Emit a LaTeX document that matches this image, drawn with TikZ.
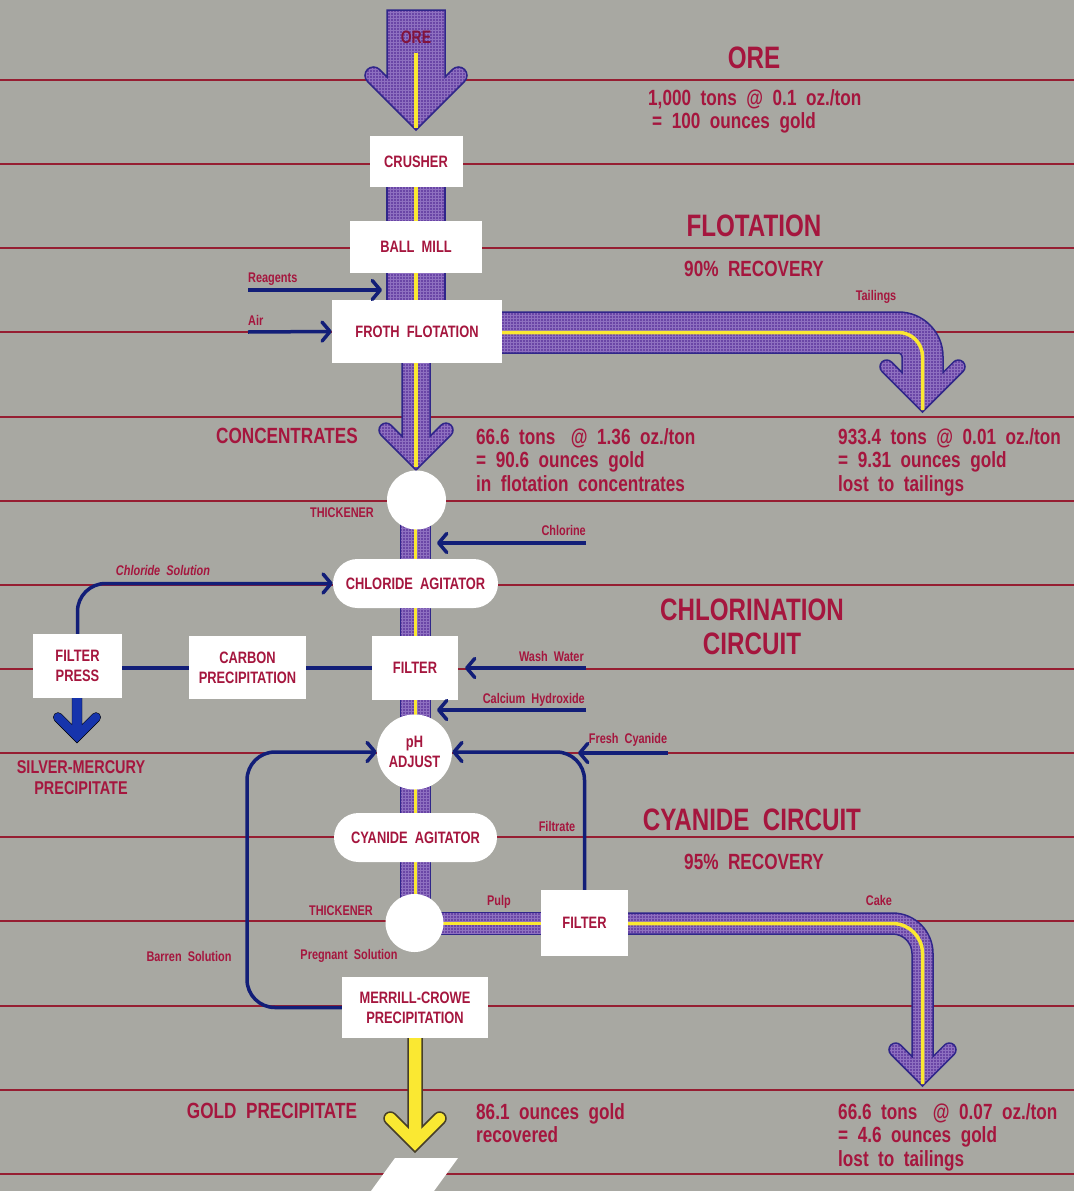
\documentclass[tikz,border=0pt]{standalone}
\usepackage{fontspec}
\setmainfont{Liberation Sans}[FakeStretch=0.78,WordSpace=2]
\usetikzlibrary{arrows.meta,patterns}
\definecolor{bg}{RGB}{168,168,162}
\definecolor{tred}{RGB}{165,22,62}
\definecolor{odark}{RGB}{130,20,60}
\definecolor{rline}{RGB}{150,30,50}
\definecolor{navy}{RGB}{18,30,120}
\definecolor{ppl}{RGB}{106,70,166}
\definecolor{lav}{RGB}{142,112,192}
\definecolor{pnv}{RGB}{48,38,138}
\definecolor{yel}{RGB}{250,232,50}
\definecolor{sblue}{RGB}{22,52,172}
\definecolor{gdark}{RGB}{70,62,40}
% downward chevron arrow: cx, top, half shaft, tip y, wing width, wing reach, style
\newcommand\varrow[7]{%
  \pgfmathsetmacro\kk{#5/(2*sqrt(2))}%
  \pgfmathsetmacro\rr{#5/2}%
  \pgfmathsetmacro\Vy{#4-2*\kk}%
  \pgfmathsetmacro\ym{#4-4*\kk-#3}%
  \draw[#7] (#1,#4) -- ({#1-#6-\kk},{#4-#6-\kk}) arc[start angle=135,end angle=315,radius=\rr]
    -- ({#1-#3},\ym) -- ({#1-#3},#2) -- ({#1+#3},#2) -- ({#1+#3},\ym)
    -- ({#1+#6-\kk},{\Vy-#6-\kk}) arc[start angle=225,end angle=405,radius=\rr] -- cycle;}
% L-shaped pipe ending in chevron: x0, yc, a, xc, R, T, w, d, style
\newcommand\larrow[9]{%
  \pgfmathsetmacro\kk{#7/(2*sqrt(2))}%
  \pgfmathsetmacro\rr{#7/2}%
  \pgfmathsetmacro\Vy{#6-2*\kk}%
  \pgfmathsetmacro\ym{#6-4*\kk-#3}%
  \draw[#9] (#1,{#2-#3}) -- ({#4-#5},{#2-#3}) arc[start angle=270,end angle=360,radius={#5+#3}]
    -- ({#4+#3},\ym) -- ({#4+#8-\kk},{\Vy-#8-\kk}) arc[start angle=225,end angle=405,radius=\rr]
    -- (#4,#6) -- ({#4-#8-\kk},{#6-#8-\kk}) arc[start angle=135,end angle=315,radius=\rr]
    -- ({#4-#3},\ym) -- ({#4-#3},{#2+#5}) arc[start angle=0,end angle=-90,radius={#5-#3}]
    -- (#1,{#2+#3}) -- cycle;
  \draw[draw=yel,line width=3.5] (#1,#2) -- ({#4-#5},#2) arc[start angle=270,end angle=360,radius=#5] -- (#4,{#6-2});}
\begin{document}
\begin{tikzpicture}[x=1pt,y=-1pt,
  every node/.style={inner sep=0pt,text=tred},
  lab/.style={font=\bfseries\fontsize{14}{16}\selectfont},
  blab/.style={font=\bfseries\fontsize{16.5}{20}\selectfont,align=center},
  body/.style={font=\bfseries\fontsize{22}{23.5}\selectfont,align=left},
  mid/.style={font=\bfseries\fontsize{22}{23.5}\selectfont,align=center},
  ttl/.style={font=\bfseries\fontsize{31}{34}\selectfont,align=center},
  box/.style={fill=white,rectangle,blab},
  pill/.style={box,rounded corners=24.5},
  disc/.style={fill=white,circle,blab},
  pipe/.style={preaction={fill=ppl},pattern=grid,pattern color=lav,draw=pnv,line width=1.5,line join=miter},
  yl/.style={draw=yel,line width=4},
  conn/.style={draw=navy,line width=3.5},
  flow/.style={conn,-{Straight Barb[length=8pt,width=19pt,round]}},
  rl/.style={draw=rline,line width=2}]
\useasboundingbox (0,0) rectangle (1074,1191);
\fill[bg] (0,0) rectangle (1074,1191);
\foreach \yy in {80,164,248,332,417,501,585,669,753,837,921,1006,1090,1174} \draw[rl] (0,\yy) -- (1074,\yy);

% ---- pipes ----
\varrow{416}{10}{29}{130}{17}{42.5}{pipe}
\draw[yl] (416,53) -- (416,128);
\draw[pipe] (387,180) rectangle (445,310);
\draw[yl] (416,180) -- (416,310);
\larrow{490}{332.5}{20.5}{922.5}{24}{412}{13.4}{35.8}{pipe}
\varrow{416}{340}{14}{470}{14}{30}{pipe}
\draw[yl,line width=3.5] (416,340) -- (416,467);
\draw[pipe] (400.5,500) rectangle (430.5,923);
\draw[yl,line width=3.5] (415.5,500) -- (415.5,923);
\draw[pipe] (415,912.5) rectangle (560,934.5);
\draw[yl,line width=3] (415,923.5) -- (560,923.5);
\larrow{600}{923.5}{10.5}{922.5}{30}{1086}{13.4}{26.8}{pipe}
\varrow{415}{1030}{7}{1152}{12.7}{24.65}{fill=yel,draw=gdark,line width=1.5,line join=miter}
\varrow{77}{690}{5}{743}{9.5}{19}{fill=sblue}
\fill[white] (371,1191) -- (395,1158) -- (458,1158) -- (434,1191) -- cycle;

% ---- nodes ----
\node[box,minimum width=93,minimum height=51] (crusher) at (416,161.5) {CRUSHER};
\node[box,minimum width=132,minimum height=52] (ballmill) at (416,247) {BALL MILL};
\node[box,minimum width=170,minimum height=63] (froth) at (417,331.5) {FROTH FLOTATION};
\node[disc,minimum size=59] (thick1) at (416.5,500) {};
\node[pill,minimum width=165,minimum height=49] (chlag) at (415.5,583.5) {CHLORIDE AGITATOR};
\node[box,minimum width=86,minimum height=64] (filter1) at (415,668) {FILTER};
\node[box,minimum width=117,minimum height=63] (carbon) at (247.5,667.5) {CARBON\\PRECIPITATION};
\node[box,minimum width=89,minimum height=64] (fpress) at (77.5,666) {FILTER\\PRESS};
\node[disc,minimum size=75] (ph) at (414.5,752) {pH\\ADJUST};
\node[pill,minimum width=163,minimum height=49] (cyag) at (415.5,837.5) {CYANIDE AGITATOR};
\node[disc,minimum size=58] (thick2) at (414.5,923) {};
\node[box,minimum width=87,minimum height=66] (filter2) at (584.5,923) {FILTER};
\node[box,minimum width=146,minimum height=61] (merrill) at (415,1007.5) {MERRILL-CROWE\\PRECIPITATION};

% ---- navy connectors ----
\coordinate (reagS) at (248,290); \coordinate (reagE) at (382,290);
\draw[flow] (reagS) -- (reagE);
\coordinate (airS) at (248,332);
\draw[flow] (airS) -- (froth.west);
\coordinate (clS) at (586,543); \coordinate (clE) at (437,543);
\draw[flow] (clS) -- (clE);
\coordinate (wwS) at (586,668); \coordinate (wwE) at (465,668);
\draw[flow] (wwS) -- (wwE);
\coordinate (caS) at (586,710); \coordinate (caE) at (437,710);
\draw[flow] (caS) -- (caE);
\draw[conn] (fpress.east |- filter1.west) -- (carbon.west |- filter1.west);
\draw[conn] (carbon.east |- filter1.west) -- (filter1.west);
\draw[flow,rounded corners=28] (fpress.north) |- (chlag.west);
\coordinate (fcS) at (668,753); \coordinate (fcE) at (578,753);
\draw[flow,rounded corners=28] (filter2.north) |- (ph.east);
\draw[flow] (fcS) -- (fcE);
\coordinate (bc) at (247,1007.5);
\draw[flow,rounded corners=28] (merrill.west) -- (bc) |- (ph.west);

% ---- texts ----
\node[font=\bfseries\fontsize{18}{20}\selectfont,text=odark] (oret) at (416,37) {ORE};
\node[ttl] (t1) at (754,58) {ORE};
\node[body,anchor=base west] (b0) at (648,128.5) {1,000 tons @ 0.1 oz./ton\\\hspace{4pt}= 100 ounces gold};
\node[ttl] (t2) at (754,226) {FLOTATION};
\node[mid] (r90) at (754,269) {90\% RECOVERY};
\node[lab,anchor=base west] (reag) at (248,282) {Reagents};
\node[lab,anchor=base west] (air) at (248,325) {Air};
\node[lab] (tail) at (876,297) {Tailings};
\node[mid] (conc) at (287,436) {CONCENTRATES};
\node[body,anchor=base west] (b1) at (476,491) {66.6 tons\hspace{6pt} @ 1.36 oz./ton\\= 90.6 ounces gold\\in flotation concentrates};
\node[body,anchor=base west] (b2) at (838,491) {933.4 tons @ 0.01 oz./ton\\= 9.31 ounces gold\\lost to tailings};
\node[lab] (th1) at (342,513) {THICKENER};
\node[lab,anchor=east] (chl) at (586,530) {Chlorine};
\node[lab,font=\bfseries\itshape\fontsize{14}{16}\selectfont] (chs) at (163,570) {Chloride Solution};
\node[ttl] (t3) at (752,627) {CHLORINATION\\CIRCUIT};
\node[lab,anchor=east] (ww) at (584,656) {Wash Water};
\node[lab,anchor=east] (cah) at (585,700) {Calcium Hydroxide};
\node[font=\bfseries\fontsize{18.5}{21}\selectfont,align=center] (silv) at (81,778) {SILVER-MERCURY\\PRECIPITATE};
\node[lab] (fc) at (628,740) {Fresh Cyanide};
\node[ttl] (t4) at (752,820) {CYANIDE CIRCUIT};
\node[mid] (r95) at (754,862) {95\% RECOVERY};
\node[lab] (filt) at (557,826) {Filtrate};
\node[lab] (th2) at (341,911) {THICKENER};
\node[lab] (pulp) at (499,902) {Pulp};
\node[lab] (cake) at (879,900) {Cake};
\node[lab] (barren) at (189,956) {Barren Solution};
\node[lab] (preg) at (349,956) {Pregnant Solution};
\node[mid] (goldp) at (272,1111) {GOLD PRECIPITATE};
\node[body,anchor=base west] (b3) at (476,1142.5) {86.1 ounces gold\\recovered};
\node[body,anchor=base west] (b4) at (838,1166) {66.6 tons\hspace{6pt} @ 0.07 oz./ton\\= 4.6 ounces gold\\lost to tailings};
\end{tikzpicture}
\end{document}
